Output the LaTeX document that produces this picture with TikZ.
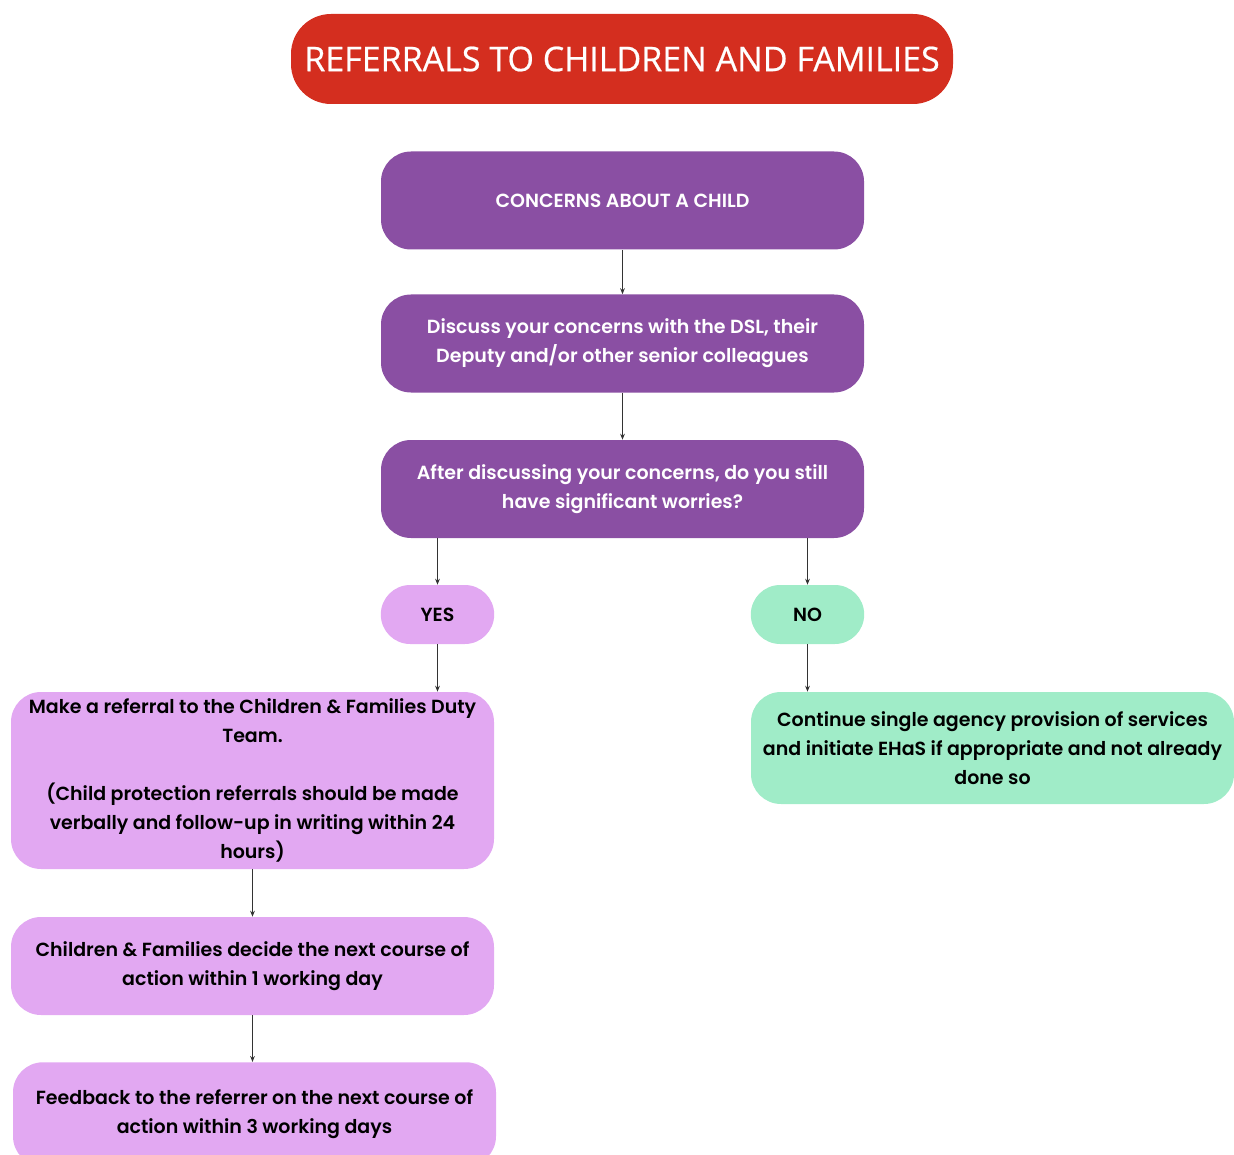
\documentclass[tikz,border=0pt]{standalone}
\usepackage{fontspec}
\setmainfont{Poppins SemiBold}
\newfontfamily\titlefont{Open Sans}[FakeBold=0.6]
\usepackage{tikz}
\usetikzlibrary{positioning,arrows.meta}
\definecolor{titlered}{HTML}{D42E1F}
\definecolor{plum}{HTML}{8A4FA3}
\definecolor{lilac}{HTML}{E2A8F2}
\definecolor{mint}{HTML}{A0ECC8}
\tikzset{
 box/.style={rounded corners=22.5pt, minimum width=362.25pt, inner sep=0pt, align=center, font=\fontsize{14.25}{21.75}\selectfont},
 darkbox/.style={box, fill=plum, text=white, minimum height=73.5pt},
 pinkbox/.style={box, fill=lilac, text=black},
 greenbox/.style={box, fill=mint, text=black},
 pill/.style={rounded corners=22pt, minimum width=85pt, minimum height=44.25pt, inner sep=0pt, font=\fontsize{14.25}{21.75}\selectfont},
 link/.style={draw=black!80, line width=0.9pt, -{Stealth[length=4.5pt,width=3.5pt]}}
}
\begin{document}
\begin{tikzpicture}[x=0.75pt,y=-0.75pt]
\useasboundingbox (0,0) rectangle (1234,1155);
\begin{scope}
\clip (0,0) rectangle (1234,1155);
\node[rounded corners=30pt, fill=titlered, text=white, minimum width=496.5pt, minimum height=67.5pt, font=\titlefont\fontsize{25.5}{30}\selectfont] (title) at (622,59) {REFERRALS TO CHILDREN AND FAMILIES};

\node[darkbox] (concerns) at (622.5,200.5) {CONCERNS ABOUT A CHILD};
\node[darkbox] (discuss) at (622.5,343.5) {Discuss your concerns with the DSL, their\\Deputy and/or other senior colleagues};
\node[darkbox] (after) at (622.5,489) {After discussing your concerns, do you still\\have significant worries?};

\node[pill, fill=lilac] (yes) at (437.5,614.5) {YES};
\node[pill, fill=mint] (no) at (807.5,614.5) {NO};

\node[pinkbox, minimum height=132.75pt] (referral) at (252.5,780.5) {Make a referral to the Children \& Families Duty\\Team.\\[21.75pt](Child protection referrals should be made\\verbally and follow-up in writing within 24\\hours)};
\node[greenbox, minimum height=84pt] (continue) at (992.5,748) {Continue single agency provision of services\\and initiate EHaS if appropriate and not already\\done so};
\node[pinkbox, minimum height=73.5pt] (decide) at (252.5,966) {Children \& Families decide the next course of\\action within 1 working day};
\node[pinkbox, minimum height=78pt, anchor=north] (feedback) at (254.5,1062) {Feedback to the referrer on the next course of\\action within 3 working days};
\end{scope}

\draw[link] (concerns) -- (discuss);
\draw[link] (discuss) -- (after);
\draw[link] (yes |- after.south) -- (yes);
\draw[link] (no |- after.south) -- (no);
\draw[link] (yes.south) -- (yes |- referral.north);
\draw[link] (no.south) -- (no |- continue.north);
\draw[link] (referral.south) -- (decide);
\draw[link] (decide) -- (decide |- feedback.north);
\end{tikzpicture}
\end{document}
